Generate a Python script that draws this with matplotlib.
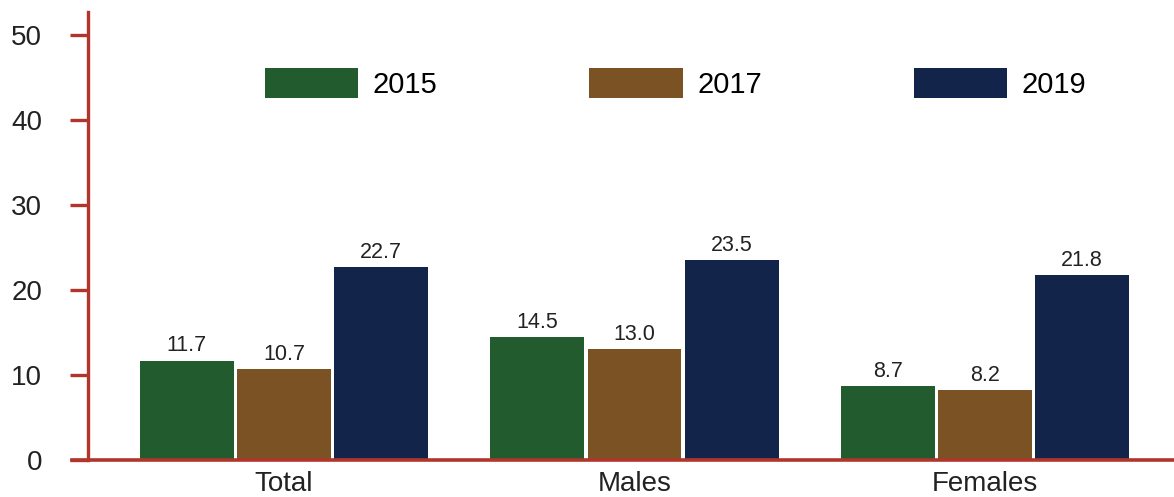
import numpy as np
import matplotlib.pyplot as plt
from matplotlib.patches import Patch

# data
categories = ["Total", "Males", "Females"]
years = ["2015", "2017", "2019"]
values_2015 = [11.7, 14.5, 8.7]
values_2017 = [10.7, 13.0, 8.2]
values_2019 = [22.7, 23.5, 21.8]
y_ticks = [0, 10, 20, 30, 40, 50]

colors = ["#225B2E", "#7A5224", "#12244A"]
axis_red = "#B0352A"

plt.rcParams["font.family"] = ["Liberation Sans", "DejaVu Sans"]

fig = plt.figure(figsize=(11.74, 4.97), dpi=100)
W, H = 1174, 497
ax = fig.add_axes([88 / W, 37 / H, 1086 / W, 448 / H])

x = np.arange(len(categories))
width = 0.268
step = 0.277
series = [values_2015, values_2017, values_2019]
for i, (vals, col) in enumerate(zip(series, colors)):
    pos = x + (i - 1) * step
    bars = ax.bar(pos, vals, width=width, color=col, zorder=2)
    for b, v in zip(bars, vals):
        ax.annotate(f"{v:.1f}", (b.get_x() + b.get_width() / 2, v),
                    xytext=(0, 3), textcoords="offset points",
                    ha="center", va="bottom", fontsize=15.5, color="#222222")

ax.set_xlim(-0.5592, 2.5393)
ax.set_ylim(0, 52.7)
ax.set_yticks(y_ticks)
ax.set_xticks(x)
ax.set_xticklabels(categories)

for s in ["top", "right", "bottom"]:
    ax.spines[s].set_visible(False)
ax.spines["left"].set_color(axis_red)
ax.spines["left"].set_linewidth(2.4)
ax.tick_params(axis="y", length=13, width=2.4, color=axis_red, pad=20,
               labelsize=20, labelcolor="#222222")
ax.tick_params(axis="x", length=0, pad=8, labelsize=20, labelcolor="#222222")

# x axis line runs a bit left of the y axis
ax.axhline(0, xmin=-16 / 1086, xmax=1, color=axis_red, lw=2.6, clip_on=False, zorder=3)

handles = [Patch(facecolor=c, edgecolor="none") for c in colors]
fig.legend(handles, years, loc="upper left", bbox_to_anchor=(265 / W, 1 - 68 / H),
           ncol=3, frameon=False, fontsize=21, handlelength=3.2, handleheight=1.2,
           handletextpad=0.5, columnspacing=5.2, borderpad=0, borderaxespad=0)

fig.savefig("out.png", dpi=100)
